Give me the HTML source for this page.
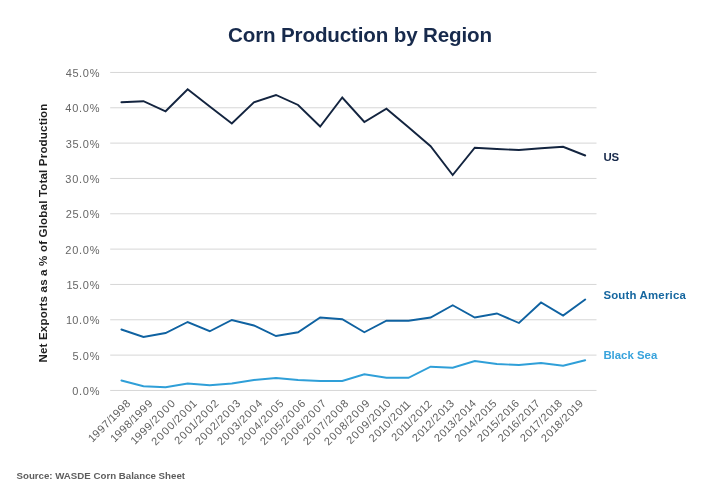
<!DOCTYPE html>
<html><head><meta charset="utf-8"><title>Corn Production by Region</title>
<style>
html,body{margin:0;padding:0;background:#fff;}
body{width:720px;height:500px;overflow:hidden;font-family:"Liberation Sans",sans-serif;}
svg{display:block;will-change:transform;}
text{font-family:"Liberation Sans",sans-serif;}
.tick{fill:#666666;font-size:11px;letter-spacing:0.55px;}
.xl{fill:#5f5f5f;font-size:11px;letter-spacing:0.4px;}
.grid{stroke:#d6d6d6;stroke-width:1;}
.ln{fill:none;stroke-width:1.9;stroke-linejoin:miter;stroke-miterlimit:6;stroke-linecap:round;}
</style></head><body>
<svg width="720" height="500" viewBox="0 0 720 500">
<text x="360" y="42.1" text-anchor="middle" font-size="20.6" font-weight="bold" fill="#172a4c" letter-spacing="-0.15">Corn Production by Region</text>
<line class="grid" x1="110.2" x2="596.5" y1="390.45" y2="390.45"/>
<text class="tick" x="72.18" y="395.15" dx="0.00 0.20 0.20 0.20">0.0%</text>
<line class="grid" x1="110.2" x2="596.5" y1="355.12" y2="355.12"/>
<text class="tick" x="72.38" y="359.82" dx="0.00 0.00 0.20 0.20">5.0%</text>
<line class="grid" x1="110.2" x2="596.5" y1="319.78" y2="319.78"/>
<text class="tick" x="66.06" y="324.48" dx="0.00 -0.55 0.20 0.20 0.20">10.0%</text>
<line class="grid" x1="110.2" x2="596.5" y1="284.45" y2="284.45"/>
<text class="tick" x="66.47" y="289.15" dx="0.00 -0.75 0.00 0.20 0.20">15.0%</text>
<line class="grid" x1="110.2" x2="596.5" y1="249.12" y2="249.12"/>
<text class="tick" x="65.31" y="253.82" dx="0.00 0.20 0.20 0.20 0.20">20.0%</text>
<line class="grid" x1="110.2" x2="596.5" y1="213.78" y2="213.78"/>
<text class="tick" x="65.72" y="218.48" dx="0.00 0.00 0.00 0.20 0.20">25.0%</text>
<line class="grid" x1="110.2" x2="596.5" y1="178.45" y2="178.45"/>
<text class="tick" x="65.31" y="183.15" dx="0.00 0.20 0.20 0.20 0.20">30.0%</text>
<line class="grid" x1="110.2" x2="596.5" y1="143.12" y2="143.12"/>
<text class="tick" x="65.72" y="147.82" dx="0.00 0.00 0.00 0.20 0.20">35.0%</text>
<line class="grid" x1="110.2" x2="596.5" y1="107.79" y2="107.79"/>
<text class="tick" x="65.31" y="112.49" dx="0.00 0.20 0.20 0.20 0.20">40.0%</text>
<line class="grid" x1="110.2" x2="596.5" y1="72.45" y2="72.45"/>
<text class="tick" x="65.72" y="77.15" dx="0.00 0.00 0.00 0.20 0.20">45.0%</text>
<text transform="translate(47,233) rotate(-90)" text-anchor="middle" font-size="11.6" font-weight="bold" fill="#1f1f1f" letter-spacing="0.15">Net Exports as a % of Global Total Production</text>
<text class="xl" transform="translate(92.61,442.69) rotate(-45)" dx="0.00 -0.55 0.30 0.15 0.00 -0.70 -0.55 0.30 0.15">1997/1998</text>
<text class="xl" transform="translate(114.71,442.79) rotate(-45)" dx="0.00 -0.55 0.30 0.15 0.00 -0.70 -0.55 0.30 0.30">1998/1999</text>
<text class="xl" transform="translate(134.95,445.05) rotate(-45)" dx="0.00 -0.55 0.30 0.30 0.15 0.00 0.45 0.90 0.90">1999/2000</text>
<text class="xl" transform="translate(155.79,446.01) rotate(-45)" dx="0.00 0.45 0.90 0.90 0.45 0.00 0.45 0.90 -0.25">2000/2001</text>
<text class="xl" transform="translate(178.72,444.88) rotate(-45)" dx="0.00 0.45 0.90 -0.25 -0.70 0.00 0.45 0.90 0.45">2001/2002</text>
<text class="xl" transform="translate(199.43,445.87) rotate(-45)" dx="0.00 0.45 0.90 0.45 0.00 0.00 0.45 0.90 0.45">2002/2003</text>
<text class="xl" transform="translate(221.43,445.87) rotate(-45)" dx="0.00 0.45 0.90 0.45 0.00 0.00 0.45 0.90 0.45">2003/2004</text>
<text class="xl" transform="translate(242.73,445.87) rotate(-45)" dx="0.00 0.45 0.90 0.45 0.00 0.00 0.45 0.90 0.45">2004/2005</text>
<text class="xl" transform="translate(264.43,445.87) rotate(-45)" dx="0.00 0.45 0.90 0.45 0.00 0.00 0.45 0.90 0.45">2005/2006</text>
<text class="xl" transform="translate(285.23,445.87) rotate(-45)" dx="0.00 0.45 0.90 0.45 0.00 0.00 0.45 0.90 0.45">2006/2007</text>
<text class="xl" transform="translate(307.43,445.87) rotate(-45)" dx="0.00 0.45 0.90 0.45 0.00 0.00 0.45 0.90 0.45">2007/2008</text>
<text class="xl" transform="translate(328.53,445.97) rotate(-45)" dx="0.00 0.45 0.90 0.45 0.00 0.00 0.45 0.90 0.60">2008/2009</text>
<text class="xl" transform="translate(350.73,444.77) rotate(-45)" dx="0.00 0.45 0.90 0.60 0.15 0.00 0.45 -0.25 -0.25">2009/2010</text>
<text class="xl" transform="translate(373.34,442.76) rotate(-45)" dx="0.00 0.45 -0.25 -0.25 0.45 0.00 0.45 -0.25 -1.40">2010/2011</text>
<text class="xl" transform="translate(395.67,441.63) rotate(-45)" dx="0.00 0.45 -0.25 -1.40 -0.70 0.00 0.45 -0.25 -0.70">2011/2012</text>
<text class="xl" transform="translate(416.48,442.62) rotate(-45)" dx="0.00 0.45 -0.25 -0.70 0.00 0.00 0.45 -0.25 -0.70">2012/2013</text>
<text class="xl" transform="translate(438.48,442.62) rotate(-45)" dx="0.00 0.45 -0.25 -0.70 0.00 0.00 0.45 -0.25 -0.70">2013/2014</text>
<text class="xl" transform="translate(458.88,442.62) rotate(-45)" dx="0.00 0.45 -0.25 -0.70 0.00 0.00 0.45 -0.25 -0.70">2014/2015</text>
<text class="xl" transform="translate(481.38,442.62) rotate(-45)" dx="0.00 0.45 -0.25 -0.70 0.00 0.00 0.45 -0.25 -0.70">2015/2016</text>
<text class="xl" transform="translate(502.18,442.62) rotate(-45)" dx="0.00 0.45 -0.25 -0.70 0.00 0.00 0.45 -0.25 -0.70">2016/2017</text>
<text class="xl" transform="translate(524.38,442.62) rotate(-45)" dx="0.00 0.45 -0.25 -0.70 0.00 0.00 0.45 -0.25 -0.70">2017/2018</text>
<text class="xl" transform="translate(545.38,442.72) rotate(-45)" dx="0.00 0.45 -0.25 -0.70 0.00 0.00 0.45 -0.25 -0.55">2018/2019</text>
<polyline class="ln" stroke="#13243f" points="121.40,102.25 143.49,101.25 165.57,111.25 187.66,89.25 209.74,106.40 231.83,123.50 253.91,102.25 276.00,95.00 298.09,105.00 320.17,126.50 342.26,97.50 364.34,122.00 386.43,108.75 408.51,127.20 430.60,146.25 452.69,175.00 474.77,147.75 496.86,149.00 518.94,150.00 541.03,148.25 563.11,146.75 585.20,155.50"/>
<polyline class="ln" stroke="#0f62a1" points="121.40,329.50 143.49,337.00 165.57,333.00 187.66,322.00 209.74,331.25 231.83,320.00 253.91,325.50 276.00,336.00 298.09,332.25 320.17,317.50 342.26,319.25 364.34,332.25 386.43,320.75 408.51,320.75 430.60,317.50 452.69,305.25 474.77,317.50 496.86,313.50 518.94,323.00 541.03,302.50 563.11,315.50 585.20,299.50"/>
<polyline class="ln" stroke="#2f9fd8" points="121.40,380.50 143.49,386.25 165.57,387.25 187.66,383.50 209.74,385.25 231.83,383.50 253.91,380.00 276.00,378.00 298.09,380.00 320.17,381.00 342.26,381.00 364.34,374.25 386.43,377.75 408.51,377.75 430.60,366.75 452.69,367.75 474.77,361.00 496.86,364.00 518.94,365.00 541.03,363.00 563.11,365.75 585.20,360.25"/>
<text x="603.6" y="160.8" font-size="11.4" font-weight="bold" fill="#16284a" letter-spacing="-0.4">US</text>
<text x="603.4" y="298.8" font-size="11.4" font-weight="bold" fill="#15669f" letter-spacing="0.2">South America</text>
<text x="603.4" y="359.3" font-size="11.4" font-weight="bold" fill="#38a3dc">Black Sea</text>
<text x="16.5" y="478.9" font-size="9.7" font-weight="bold" fill="#5e5e5e">Source: WASDE Corn Balance Sheet</text>
</svg>
</body></html>
